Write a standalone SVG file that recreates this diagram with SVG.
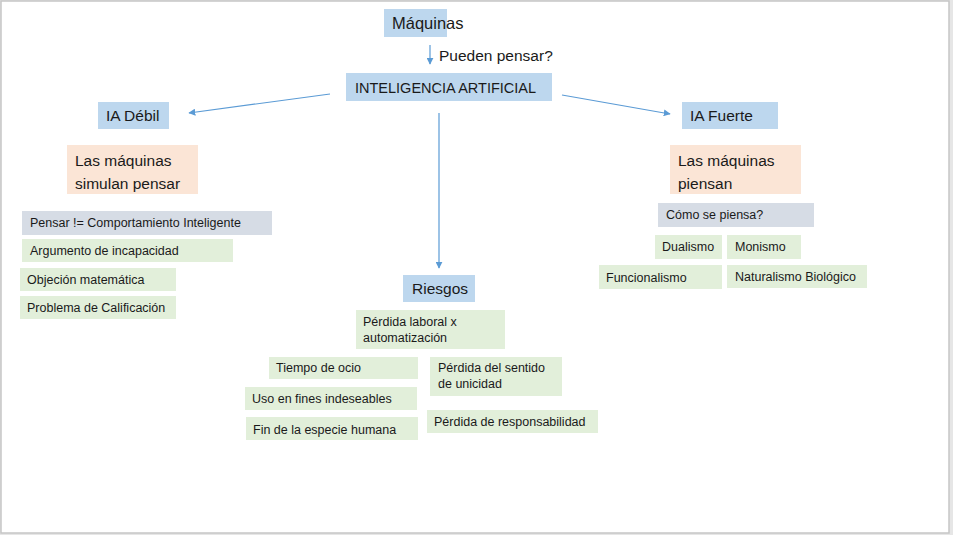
<svg xmlns="http://www.w3.org/2000/svg" width="953" height="535" viewBox="0 0 953 535">
<style>
.bg{fill:#e6e6e6}
.slide{fill:#ffffff;stroke:#c6c6c6;stroke-width:1.5}
.blue{fill:#bdd7ee}
.peach{fill:#fbe5d6}
.grey{fill:#d6dce5}
.green{fill:#e2efda}
text{font-family:"Liberation Sans",Arial,sans-serif;fill:#1a1a1a}
.l{font-size:15.5px}
.s{font-size:12.5px}
.c{stroke:#5b9bd5;stroke-width:1.2;fill:none}
</style>
<defs>
<marker id="ah" viewBox="0 0 10 10" refX="9" refY="5" markerWidth="7" markerHeight="7" markerUnits="userSpaceOnUse" orient="auto">
<path d="M0,0 L10,5 L0,10 z" fill="#5b9bd5"/>
</marker>
</defs>
<rect class="bg" x="0" y="0" width="953" height="535"/>
<rect class="slide" x="1" y="1" width="948" height="532"/>

<g id="connectors">
<line class="c" x1="430" y1="45" x2="430" y2="64" marker-end="url(#ah)"/>
<line class="c" x1="330" y1="94" x2="189" y2="113" marker-end="url(#ah)"/>
<line class="c" x1="562" y1="95" x2="670" y2="114" marker-end="url(#ah)"/>
<line class="c" x1="439" y1="113" x2="439" y2="268" marker-end="url(#ah)"/>
<text class="l" x="439" y="61">Pueden pensar?</text>
</g>

<g id="maquinas"><rect class="blue" x="384" y="9" width="63" height="28"/><text x="392" y="29" style="font-size:16.5px">Máquinas</text></g>
<g id="ia"><rect class="blue" x="346" y="73" width="206" height="28"/><text x="355" y="93" style="font-size:14.5px">INTELIGENCIA ARTIFICIAL</text></g>
<g id="ia-debil"><rect class="blue" x="98" y="102" width="71" height="27"/><text class="l" x="106" y="121">IA Débil</text></g>
<g id="ia-fuerte"><rect class="blue" x="682" y="102" width="96" height="27"/><text class="l" x="690" y="121">IA Fuerte</text></g>
<g id="simulan"><rect class="peach" x="67" y="145" width="131" height="49"/><text class="l" x="75" y="166">Las máquinas</text><text class="l" x="75" y="189">simulan pensar</text></g>
<g id="piensan"><rect class="peach" x="670" y="145" width="131" height="49"/><text class="l" x="678" y="166">Las máquinas</text><text class="l" x="678" y="189">piensan</text></g>

<g id="pensar"><rect class="grey" x="22" y="211" width="250" height="24"/><text class="s" x="30" y="227">Pensar != Comportamiento Inteligente</text></g>
<g id="argumento"><rect class="green" x="22" y="239" width="211" height="23"/><text class="s" x="30" y="255">Argumento de incapacidad</text></g>
<g id="objecion"><rect class="green" x="20" y="268" width="156" height="23"/><text class="s" x="27" y="284">Objeción matemática</text></g>
<g id="problema"><rect class="green" x="20" y="296" width="156" height="23"/><text class="s" x="27" y="312">Problema de Calificación</text></g>

<g id="como"><rect class="grey" x="658" y="203" width="156" height="24"/><text class="s" x="666" y="219">Cómo se piensa?</text></g>
<g id="dualismo"><rect class="green" x="655" y="235" width="67" height="24"/><text class="s" x="662" y="251">Dualismo</text></g>
<g id="monismo"><rect class="green" x="727" y="235" width="74" height="24"/><text class="s" x="735" y="251">Monismo</text></g>
<g id="funcionalismo"><rect class="green" x="599" y="265" width="123" height="24"/><text class="s" x="606" y="282">Funcionalismo</text></g>
<g id="naturalismo"><rect class="green" x="727" y="265" width="140" height="23"/><text class="s" x="735" y="281">Naturalismo Biológico</text></g>

<g id="riesgos"><rect class="blue" x="403" y="275" width="72" height="27"/><text class="l" x="412" y="294">Riesgos</text></g>
<g id="laboral"><rect class="green" x="356" y="310" width="149" height="39"/><text class="s" x="363" y="326">Pérdida laboral x</text><text class="s" x="363" y="342">automatización</text></g>
<g id="ocio"><rect class="green" x="269" y="357" width="149" height="22"/><text class="s" x="276" y="372">Tiempo de ocio</text></g>
<g id="unicidad"><rect class="green" x="430" y="357" width="132" height="39"/><text class="s" x="438" y="372">Pérdida del sentido</text><text class="s" x="438" y="388">de unicidad</text></g>
<g id="fines"><rect class="green" x="245" y="387" width="172" height="23"/><text class="s" x="252" y="403">Uso en fines indeseables</text></g>
<g id="responsabilidad"><rect class="green" x="427" y="410" width="171" height="23"/><text class="s" x="434" y="426">Pérdida de responsabilidad</text></g>
<g id="fin"><rect class="green" x="246" y="417" width="172" height="23"/><text class="s" x="253" y="434">Fin de la especie humana</text></g>
</svg>
